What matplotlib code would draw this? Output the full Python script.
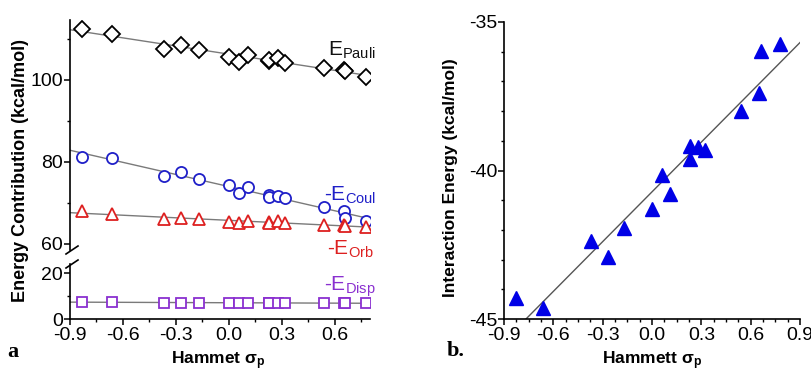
import numpy as np
from matplotlib import pyplot as plt

plt.rcParams['font.family'] = ['Liberation Sans', 'DejaVu Sans']
plt.rcParams['mathtext.fontset'] = 'custom'
plt.rcParams['mathtext.rm'] = 'Liberation Sans'
plt.rcParams['mathtext.it'] = 'Liberation Sans:italic'
plt.rcParams['mathtext.bf'] = 'Liberation Sans:bold'
plt.rcParams['axes.unicode_minus'] = False

# Hammett sigma_p values of the substituents
sigma = [-0.83, -0.66, -0.37, -0.27, -0.17, 0.00, 0.06, 0.11,
         0.23, 0.23, 0.28, 0.32, 0.54, 0.65, 0.66, 0.78]

# panel a: energy decomposition (kcal/mol)
e_pauli = [112.4, 111.1, 107.6, 108.6, 107.2, 105.5, 104.4, 106.0,
           104.7, 104.9, 105.3, 104.1, 102.8, 102.5, 102.2, 100.8]
e_coul = [81.2, 81.0, 76.6, 77.6, 75.8, 74.3, 72.5, 73.9,
          72.0, 71.5, 71.7, 71.2, 69.1, 68.1, 66.3, 65.5]
e_orb = [67.9, 67.2, 66.0, 66.3, 66.1, 65.4, 65.0, 65.6,
         65.4, 65.2, 65.6, 65.2, 64.6, 64.5, 64.4, 64.1]
e_disp = [7.3, 7.3, 7.2, 7.2, 7.2, 7.1, 7.1, 7.1,
          7.0, 7.0, 7.0, 7.0, 6.9, 6.9, 6.9, 6.9]

# panel b: total interaction energy (kcal/mol)
e_int = [-44.3, -44.64, -42.37, -42.9, -41.95, -41.3, -40.15, -40.8,
         -39.16, -39.6, -39.2, -39.3, -38.0, -37.4, -35.97, -35.75]

W, H = 811, 371
fig = plt.figure(figsize=(W / 100, H / 100), dpi=100)

def box(x0, y0, x1, y1):
    # pixel box (top-left origin) -> figure fraction
    return [x0 / W, 1 - y1 / H, (x1 - x0) / W, (y1 - y0) / H]

ax_top = fig.add_axes(box(70, 20, 370, 250))
ax_bot = fig.add_axes(box(70, 264, 370, 319))
ax_b = fig.add_axes(box(504, 22, 800, 319))

gray = '#7a7a7a'
x = np.array(sigma)
xl = np.array([-0.9, 0.8])


def style(ax):
    for s in ['top', 'right']:
        ax.spines[s].set_visible(False)
    for s in ['left', 'bottom']:
        ax.spines[s].set_linewidth(1.2)
    ax.tick_params(which='major', length=4, width=1.1, labelsize=14, pad=1)
    ax.tick_params(which='minor', length=2.5, width=1.0)
    ax.tick_params(axis='x', pad=2)


def fitline(ax, y, xr):
    p = np.polyfit(x, y, 1)
    ax.plot(xr, np.polyval(p, xr), color=gray, lw=1.0, zorder=1)


# ---- panel a ----
fitline(ax_top, e_pauli, xl)
fitline(ax_top, e_coul, xl)
fitline(ax_top, e_orb, xl)
fitline(ax_bot, e_disp, xl)
ax_top.plot(x, e_pauli, 'D', ms=8.5, mfc='white', mec='black', mew=1.3, zorder=3)
ax_top.plot(x, e_coul, 'o', ms=8, mfc='white', mec='#1f1fc8', mew=1.3, zorder=3)
ax_top.plot(x, e_orb, '^', ms=9, mfc='white', mec='#dd2020', mew=1.3, zorder=3)
ax_bot.plot(x, e_disp, 's', ms=7.5, mfc='white', mec='#8a30d0', mew=1.3, zorder=3)

for ax in (ax_top, ax_bot):
    style(ax)
    ax.set_xlim(-0.9, 0.8)
    ax.set_xticks([-0.9, -0.6, -0.3, 0.0, 0.3, 0.6])
    ax.set_xticks(np.arange(-0.75, 0.8, 0.3), minor=True)

ax_top.set_ylim(58.5, 114.6)
ax_top.set_yticks([60, 80, 100])
ax_top.set_yticks([70, 90, 110], minor=True)
ax_top.spines['bottom'].set_visible(False)
ax_top.tick_params(axis='x', which='both', bottom=False, labelbottom=False)

ax_bot.set_ylim(0, 24)
ax_bot.set_yticks([0, 20])
ax_bot.set_yticks([10], minor=True)
ax_bot.set_xticklabels(['-0.9', '-0.6', '-0.3', '0.0', '0.3', '0.6'])

# break marks on the y axis
kw = dict(color='black', lw=1.2, clip_on=False)
fig.add_artist(plt.Line2D([66 / W, 78 / W], [1 - 254 / H, 1 - 246 / H], **kw))
fig.add_artist(plt.Line2D([66 / W, 78 / W], [1 - 268 / H, 1 - 260 / H], **kw))

fig.text(21 / W, 1 - 170 / H, 'Energy Contribution (kcal/mol)', rotation=90,
         ha='center', va='center', fontsize=13, fontweight='bold')
fig.text(218 / W, 1 - 361 / H, r'Hammet $\mathbf{\sigma_p}$', ha='center',
         va='center', fontsize=12.5, fontweight='bold')

fig.text(376 / W, 1 - 50 / H, r'E$_{\mathrm{Pauli}}$', ha='right', va='center',
         fontsize=15, color='#111111')
fig.text(376 / W, 1 - 195 / H, r'-E$_{\mathrm{Coul}}$', ha='right', va='center',
         fontsize=15, color='#1f1fc8')
fig.text(374 / W, 1 - 249 / H, r'-E$_{\mathrm{Orb}}$', ha='right', va='center',
         fontsize=15, color='#dd2020')
fig.text(376 / W, 1 - 287 / H, r'-E$_{\mathrm{Disp}}$', ha='right', va='center',
         fontsize=15, color='#8a30d0')

fig.text(13 / W, 1 - 352 / H, 'a', family='Liberation Serif', fontweight='bold',
         fontsize=16, ha='center', va='center')

# ---- panel b ----
style(ax_b)
xb = np.array([-0.9, 0.9])
p = np.polyfit(x, e_int, 1)
ax_b.plot(xb, np.polyval(p, xb), color='#555555', lw=1.0, zorder=1)
ax_b.plot(x, e_int, '^', ms=9.5, color='#0000e6', zorder=3)
ax_b.set_xlim(-0.9, 0.9)
ax_b.set_ylim(-45, -35)
ax_b.set_xticks([-0.9, -0.6, -0.3, 0.0, 0.3, 0.6, 0.9])
ax_b.set_xticklabels(['-0.9', '-0.6', '-0.3', '0.0', '0.3', '0.6', '0.9'])
ax_b.set_xticks(np.arange(-0.9, 0.91, 0.075), minor=True)
ax_b.set_yticks([-45, -40, -35])
ax_b.set_yticks(np.arange(-45, -34.5, 1), minor=True)

fig.text(450 / W, 1 - 178 / H, 'Interaction Energy (kcal/mol)', rotation=90,
         ha='center', va='center', fontsize=12.5, fontweight='bold')
fig.text(652 / W, 1 - 361 / H, r'Hammett $\mathbf{\sigma_p}$', ha='center',
         va='center', fontsize=12.5, fontweight='bold')
fig.text(456 / W, 1 - 351 / H, 'b.', family='Liberation Serif', fontweight='bold',
         fontsize=16, ha='center', va='center')

fig.savefig('out.png', dpi=100)
